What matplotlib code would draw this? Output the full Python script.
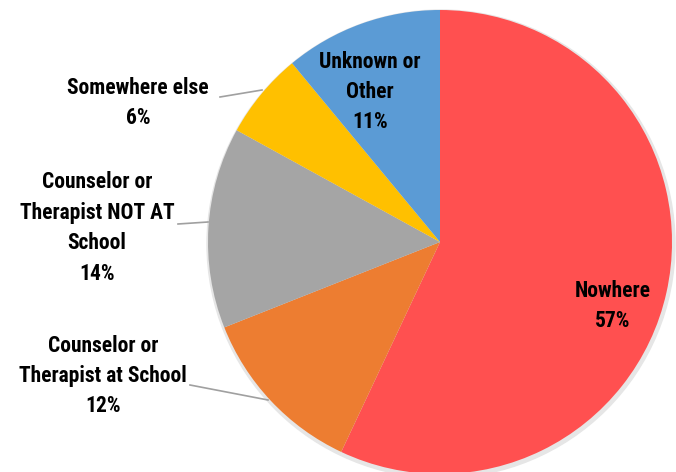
import matplotlib
matplotlib.use("Agg")
import matplotlib.pyplot as plt
from matplotlib import font_manager

categories = ["Nowhere", "Counselor or\nTherapist at School", "Counselor or\nTherapist NOT AT\nSchool",
              "Somewhere else", "Unknown or\nOther"]
values = [57, 12, 14, 6, 11]
colors = ["#FF5050", "#ED7D31", "#A5A5A5", "#FFC000", "#5B9BD5"]

names = {f.name for f in font_manager.fontManager.ttflist}
fam, stretch = "DejaVu Sans", "condensed"
for cand in ["Roboto Condensed", "Liberation Sans Narrow", "Open Sans Condensed", "DejaVu Sans Condensed"]:
    if cand in names:
        fam, stretch = cand, "normal"
        break

fig = plt.figure(figsize=(6.76, 4.72), dpi=100)
ax = fig.add_axes([0, 0, 1, 1])

cx, cy, r = 440, 230, 232
shadow = plt.Circle((cx + 1, cy - 2), r + 2, color="#e6e6e6", zorder=0)
ax.add_patch(shadow)
ax.pie(values, colors=colors, startangle=90, counterclock=False, center=(cx, cy), radius=r,
       wedgeprops=dict(linewidth=0), frame=True)
ax.set_xlim(0, 676)
ax.set_ylim(0, 472)
ax.set_aspect("equal")
ax.axis("off")

def lbl(i, x, y):
    ax.text(x, y, f"{categories[i]}\n{values[i]}%", ha="center", va="center", fontsize=15.5,
            fontweight="bold", family=fam, fontstretch=stretch, linespacing=1.5,
            color="black", zorder=5)

lbl(0, 613, 472 - 306)
lbl(1, 103, 472 - 376)
lbl(2, 97, 472 - 228)
lbl(3, 138, 472 - 103)
lbl(4, 370, 472 - 92)

lc = "#a0a0a0"
ax.plot([220, 262], [472 - 97, 472 - 90], color=lc, lw=1.2, zorder=4)
ax.plot([178, 208], [472 - 224, 472 - 222], color=lc, lw=1.2, zorder=4)
ax.plot([190, 268], [472 - 385, 472 - 400], color=lc, lw=1.2, zorder=4)

fig.savefig("out.png", dpi=100)
